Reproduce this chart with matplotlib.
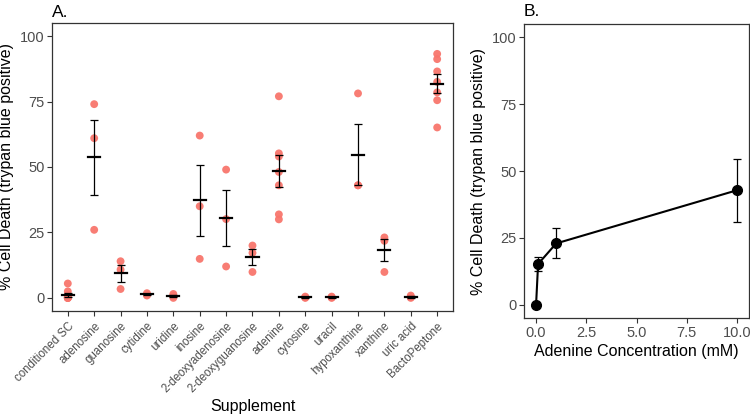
import numpy as np
import matplotlib
matplotlib.use("Agg")
import matplotlib.pyplot as plt

plt.rcParams['font.family'] = ['Liberation Sans', 'DejaVu Sans']

# panel A: individual replicates per supplement
supplements = ["conditioned SC", "adenosine", "guanosine", "cytidine", "uridine",
               "inosine", "2-deoxyadenosine", "2-deoxyguanosine", "adenine",
               "cytosine", "uracil", "hypoxanthine", "xanthine", "uric acid",
               "BactoPeptone"]
replicates = [
    [5.5, 2.5, 1.2, 0.3, 0.0, 0.0, 0.0, 0.0],
    [74.0, 61.0, 26.0],
    [14.0, 10.8, 3.4],
    [1.8, 1.2, 0.9],
    [1.5, 0.8, 0.0],
    [62.0, 35.0, 14.9],
    [49.0, 30.1, 12.0],
    [20.0, 17.2, 9.9],
    [77.0, 55.2, 54.0, 48.1, 43.0, 31.9, 30.0],
    [0.5, 0.2, 0.0],
    [0.5, 0.2, 0.0],
    [78.1, 43.0, 43.0],
    [23.1, 21.8, 9.9],
    [0.9, 0.3, 0.0],
    [93.2, 91.2, 86.5, 82.5, 78.5, 75.5, 65.1],
]

# panel B: adenine dose response
adenine_mM = [0.0, 0.1, 1.0, 10.0]
death_mean = [0.0, 15.2, 22.9, 42.8]
death_se = [0.0, 2.5, 5.6, 11.8]

point_col = "#F8766D"
frame_col = "#333333"
tick_col = "#4D4D4D"

fig = plt.figure(figsize=(7.5, 4.18), dpi=100)
axA = fig.add_axes([0.0693, 0.256, 0.5347, 0.689])
axB = fig.add_axes([0.6987, 0.2392, 0.30, 0.7034])

for i, vals in enumerate(replicates):
    vals = np.array(vals)
    axA.scatter(np.full(len(vals), i), vals, s=32, color=point_col, alpha=0.95,
                edgecolors='none', zorder=2)
    m = vals.mean()
    se = vals.std(ddof=1) / np.sqrt(len(vals))
    axA.errorbar(i, m, yerr=se, fmt='none', ecolor='black', elinewidth=0.9,
                 capsize=3.2, capthick=0.9, zorder=3)
    axA.plot([i - 0.23, i + 0.23], [m, m], color='black', lw=1.6, zorder=4)

axA.set_xlim(-0.6, len(supplements) - 0.4)
axA.set_ylim(-5, 105)
axA.set_xticks(range(len(supplements)))
axA.set_xticklabels(supplements, rotation=45, ha='right', va='top',
                    rotation_mode='anchor', fontsize=8.3)
axA.set_yticks([0, 25, 50, 75, 100])
axA.set_xlabel("Supplement", fontsize=11.5)
axA.xaxis.set_label_coords(0.5, -0.305)
axA.set_ylabel("% Cell Death (trypan blue positive)", fontsize=11.5, labelpad=4)
axA.text(0.0, 1.021, "A.", transform=axA.transAxes, fontsize=12.5,
         ha='left', va='baseline')

axB.errorbar(adenine_mM, death_mean, yerr=death_se, color='black', lw=1.5,
             marker='o', ms=7, elinewidth=0.9, capsize=2.8, capthick=0.9)
axB.set_xlim(-0.6, 10.6)
axB.set_ylim(-5, 105)
axB.set_xticks([0, 2.5, 5, 7.5, 10])
axB.set_xticklabels(["0.0", "2.5", "5.0", "7.5", "10.0"])
axB.set_yticks([0, 25, 50, 75, 100])
axB.set_xlabel("Adenine Concentration (mM)", fontsize=11.5)
axB.xaxis.set_label_coords(0.5, -0.09)
axB.set_ylabel("% Cell Death (trypan blue positive)", fontsize=11.5, labelpad=4)
axB.text(0.0, 1.028, "B.", transform=axB.transAxes, fontsize=12.5,
         ha='left', va='baseline')

for ax in (axA, axB):
    for sp in ax.spines.values():
        sp.set_color(frame_col)
        sp.set_linewidth(0.9)
    ax.tick_params(axis='both', colors=frame_col, labelcolor=tick_col,
                   length=3.5, width=0.8, pad=2)
    ax.tick_params(axis='y', labelsize=10.5)
axA.tick_params(axis='x', pad=3)
axB.tick_params(axis='x', labelsize=10.5)

fig.savefig("out.png", dpi=100)
